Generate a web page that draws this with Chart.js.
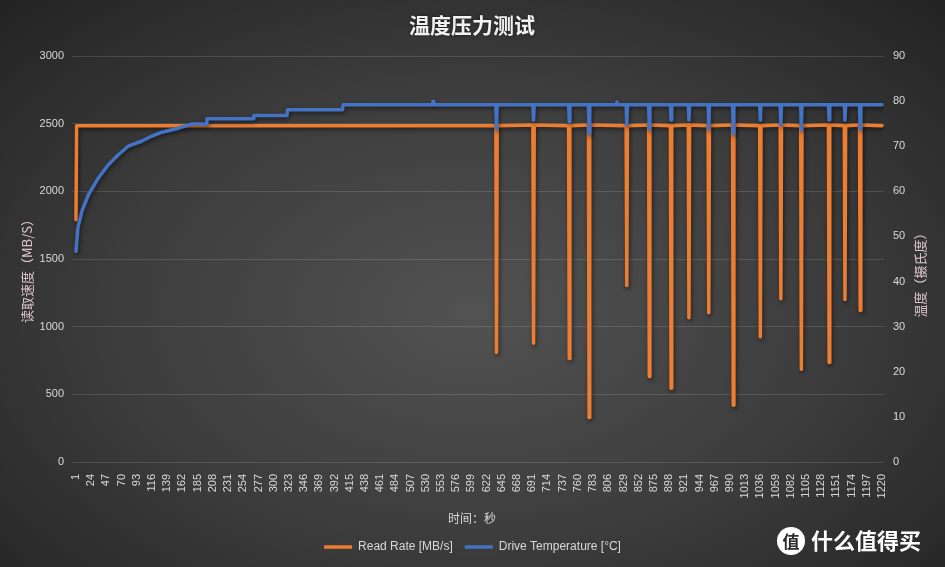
<!DOCTYPE html>
<html>
<head>
<meta charset="utf-8">
<script src="https://cdn.jsdelivr.net/npm/chart.js"></script>
<style>
  html, body { margin: 0; padding: 0; }
  body {
    width: 945px; height: 567px; overflow: hidden;
    background: radial-gradient(ellipse 70% 75% at 50% 55%, #525252 0%, #3c3c3c 55%, #242424 100%);
  }
  canvas { display: block; }
</style>
</head>
<body>
<canvas id="chart" width="945" height="567"></canvas>
<script>
// x axis tick labels (seconds)
const xTicks = [1, 24, 47, 70, 93, 116, 139, 162, 185, 208, 231, 254, 277, 300, 323, 346, 369, 392,
    415, 438, 461, 484, 507, 530, 553, 576, 599, 622, 645, 668, 691, 714, 737, 760, 783, 806, 829,
    852, 875, 898, 921, 944, 967, 990, 1013, 1036, 1059, 1082, 1105, 1128, 1151, 1174, 1197, 1220];

// Read Rate [MB/s] - time / value pairs
const readTime = [1, 2, 636, 637, 638, 692, 693, 694, 746, 747, 748, 776, 777, 778, 833, 834, 835,
    867, 868, 869, 900, 901, 902, 927, 928, 929, 957, 958, 959, 994, 995, 996, 1035, 1036, 1037,
    1066, 1067, 1068, 1097, 1098, 1099, 1139, 1140, 1141, 1163, 1164, 1165, 1186, 1187, 1188, 1220];
const readRate = [1790, 2485, 2485, 810, 2485, 2490, 877, 2490, 2485, 764, 2485, 2490, 329, 2490, 2485, 1305, 2485,
    2490, 632, 2490, 2485, 545, 2485, 2490, 1066, 2490, 2485, 1103, 2485, 2490, 420, 2490, 2485, 926, 2485,
    2490, 1206, 2490, 2485, 686, 2485, 2490, 735, 2490, 2485, 1201, 2485, 2490, 1120, 2490, 2485];

// Drive Temperature [°C]
const tempTime = [1, 4, 10, 20, 35, 50, 65, 80, 100, 115, 131, 156, 176, 198, 199, 269, 270, 320, 321, 404, 405,
    540, 541, 542, 636, 637, 638, 692, 693, 694, 746, 747, 748, 776, 777, 778, 818, 819, 820, 833, 834, 835,
    867, 868, 869, 900, 901, 902, 927, 928, 929, 957, 958, 959, 994, 995, 996, 1035, 1036, 1037,
    1066, 1067, 1068, 1097, 1098, 1099, 1139, 1140, 1141, 1163, 1164, 1165, 1186, 1187, 1188, 1220];
const tempValue = [46.7, 52, 55.6, 59.3, 63, 65.9, 68.1, 70, 71.1, 72.2, 73.1, 74, 74.9, 74.9, 76.1, 76.1, 76.8, 76.8, 78.1, 78.1, 79.2,
    79.2, 79.9, 79.2, 79.2, 73.9, 79.2, 79.2, 75.8, 79.2, 79.2, 75.4, 79.2, 79.2, 72.8, 79.2, 79.2, 79.8, 79.2, 79.2, 74.7, 79.2,
    79.2, 73.9, 79.2, 79.2, 75.8, 79.2, 79.2, 75.8, 79.2, 79.2, 73.9, 79.2, 79.2, 72.8, 79.2, 79.2, 75.8, 79.2,
    79.2, 74.7, 79.2, 79.2, 73.6, 79.2, 79.2, 75.8, 79.2, 79.2, 75.8, 79.2, 79.2, 73.9, 79.2, 79.2];

const TICK_COLOR = '#d9d9d9';
const GRID_COLOR = 'rgba(255,255,255,0.13)';
const CJK = '"Noto Sans CJK SC", "Noto Sans", sans-serif';
const NUM = '"Liberation Sans", sans-serif';

// shadow under the lines, like the Excel effect
const lineShadow = {
    id: 'lineShadow',
    beforeDatasetsDraw(chart) {
        const ctx = chart.ctx;
        ctx.save();
        ctx.shadowColor = 'rgba(0,0,0,0.55)';
        ctx.shadowBlur = 4;
        ctx.shadowOffsetX = 1;
        ctx.shadowOffsetY = 2;
    },
    afterDatasetsDraw(chart) {
        chart.ctx.restore();
    }
};

// titles and the watermark
const extraText = {
    id: 'extraText',
    afterDraw(chart) {
        const ctx = chart.ctx;
        ctx.save();
        ctx.textAlign = 'center';
        ctx.textBaseline = 'middle';

        ctx.shadowColor = 'rgba(0,0,0,0.6)';
        ctx.shadowBlur = 3;
        ctx.fillStyle = '#f2f2f2';
        ctx.font = 'bold 21px ' + CJK;
        ctx.fillText('温度压力测试', 472, 25);
        ctx.shadowColor = 'transparent';

        ctx.font = '13px ' + CJK;
        ctx.fillStyle = '#dcc6cc';
        ctx.save();
        ctx.translate(27, 268);
        ctx.rotate(-Math.PI / 2);
        ctx.fillText('读取速度（MB/S）', 0, 0);
        ctx.restore();

        ctx.save();
        ctx.translate(920, 272);
        ctx.rotate(-Math.PI / 2);
        ctx.fillText('温度（摄氏度）', 0, 0);
        ctx.restore();

        ctx.font = '12px ' + CJK;
        ctx.fillStyle = TICK_COLOR;
        ctx.fillText('时间：秒', 472, 518);

        // watermark
        ctx.fillStyle = '#ffffff';
        ctx.beginPath();
        ctx.arc(791, 541, 14, 0, Math.PI * 2);
        ctx.fill();
        ctx.fillStyle = '#2a2a2a';
        ctx.font = 'bold 17px ' + CJK;
        ctx.fillText('值', 791, 542);
        ctx.fillStyle = '#ffffff';
        ctx.font = 'bold 22px ' + CJK;
        ctx.textAlign = 'left';
        ctx.fillText('什么值得买', 811, 541);
        ctx.restore();
    }
};

const ctx = document.getElementById('chart').getContext('2d');
new Chart(ctx, {
    type: 'line',
    data: {
        datasets: [{
            label: 'Drive Temperature [°C]',
            data: tempTime.map((t, i) => ({ x: t, y: tempValue[i] })),
            borderColor: '#4472c4',
            backgroundColor: '#4472c4',
            borderWidth: 3.5,
            yAxisID: 'yTemp'
        }, {
            label: 'Read Rate [MB/s]',
            data: readTime.map((t, i) => ({ x: t, y: readRate[i] })),
            borderColor: '#ed7d31',
            backgroundColor: '#ed7d31',
            borderWidth: 3.5,
            yAxisID: 'yRate'
        }]
    },
    options: {
        responsive: false,
        animation: false,
        devicePixelRatio: 1,
        layout: { padding: { top: 56, bottom: 4, left: 0, right: 0 } },
        elements: {
            line: { tension: 0, borderJoinStyle: 'round', borderCapStyle: 'round' },
            point: { radius: 0 }
        },
        plugins: {
            tooltip: { enabled: false },
            title: { display: false },
            legend: {
                position: 'bottom',
                reverse: true,
                labels: {
                    color: TICK_COLOR,
                    font: { family: NUM, size: 12 },
                    usePointStyle: true,
                    pointStyle: 'line',
                    pointStyleWidth: 28,
                    padding: 12
                }
            }
        },
        scales: {
            x: {
                type: 'linear',
                min: -5,
                max: 1223,
                grid: { display: false },
                border: { display: false },
                afterBuildTicks(scale) {
                    scale.ticks = xTicks.map(v => ({ value: v }));
                },
                afterFit(scale) { scale.height = 67; },
                ticks: {
                    color: TICK_COLOR,
                    font: { family: NUM, size: 11 },
                    autoSkip: false,
                    maxRotation: 90,
                    minRotation: 90,
                    padding: 4,
                    callback: v => String(v)
                }
            },
            yRate: {
                position: 'left',
                min: 0,
                max: 3000,
                afterFit(scale) { scale.width = 72; },
                grid: { color: GRID_COLOR, drawTicks: false },
                border: { display: false },
                ticks: {
                    stepSize: 500,
                    color: TICK_COLOR,
                    font: { family: NUM, size: 11 },
                    padding: 8,
                    callback: v => String(v)
                }
            },
            yTemp: {
                position: 'right',
                min: 0,
                max: 90,
                afterFit(scale) { scale.width = 61; },
                grid: { display: false, drawTicks: false },
                border: { display: false },
                ticks: {
                    stepSize: 10,
                    color: TICK_COLOR,
                    font: { family: NUM, size: 11 },
                    padding: 9,
                    callback: v => String(v)
                }
            }
        }
    },
    plugins: [lineShadow, extraText]
});
</script>
</body>
</html>
